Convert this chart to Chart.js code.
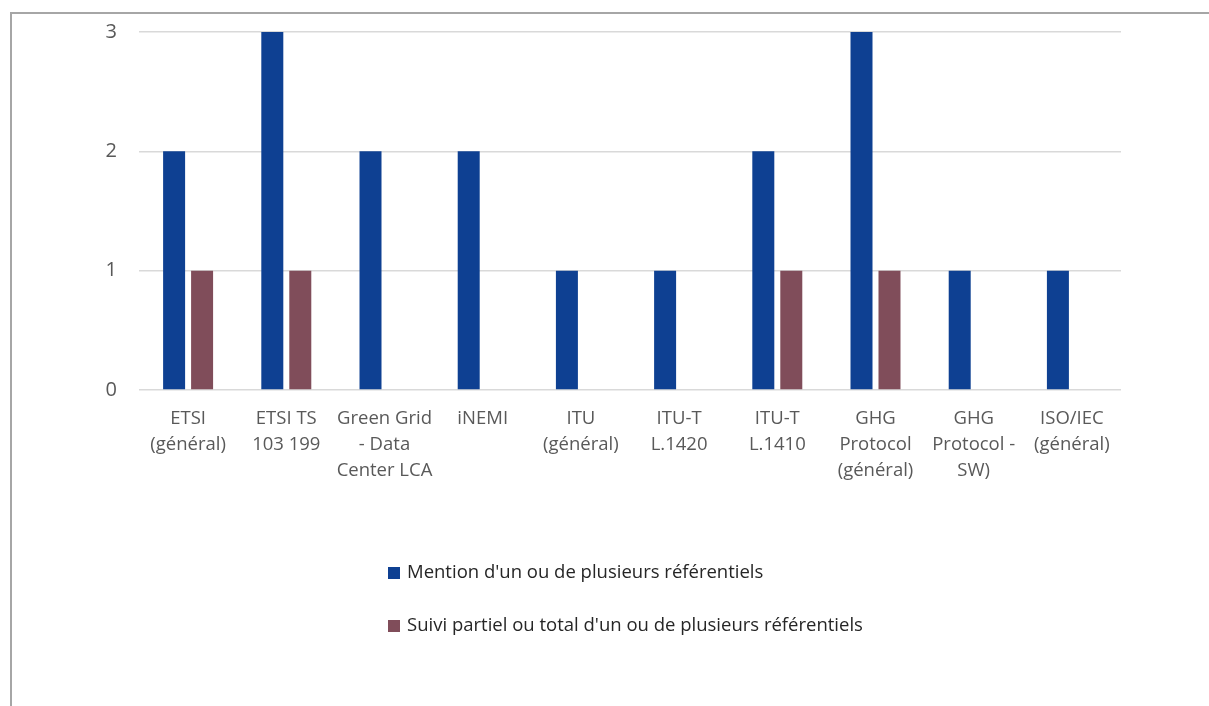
<!DOCTYPE html>
<html>
<head>
<meta charset="utf-8">
<script src="https://cdn.jsdelivr.net/npm/chart.js@4.4.0/dist/chart.umd.min.js"></script>
<style>
  html, body { margin: 0; padding: 0; background: #fff; overflow: hidden; width: 1209px; height: 706px; }
  #frame { position: absolute; left: 10px; top: 12px; width: 1260px; height: 760px;
           border-left: 2px solid #a6a6a6; border-top: 2px solid #a6a6a6; background: #fff; }
  #wrap { position: absolute; left: 0; top: 0; width: 1197px; height: 692px; }
</style>
</head>
<body>
<div id="frame"><div id="wrap"><canvas id="c" width="1197" height="692"></canvas></div></div>
<script>
const categories = [
  ["ETSI", "(général)"],
  ["ETSI TS", "103 199"],
  ["Green Grid", "- Data", "Center LCA"],
  ["iNEMI"],
  ["ITU", "(général)"],
  ["ITU-T", "L.1420"],
  ["ITU-T", "L.1410"],
  ["GHG", "Protocol", "(général)"],
  ["GHG", "Protocol -", "SW)"],
  ["ISO/IEC", "(général)"]
];
const seriesNames = [
  "Mention d'un ou de plusieurs référentiels",
  "Suivi partiel ou total d'un ou de plusieurs référentiels"
];
const mentionValues = [2, 3, 2, 2, 1, 1, 2, 3, 1, 1];
const suiviValues   = [1, 1, 0, 0, 0, 0, 1, 1, 0, 0];
const yTicks = [0, 1, 2, 3];
const seriesColors = ["#0E4092", "#804D5A"];

const FONT = "'Open Sans', 'Liberation Sans', sans-serif";

const stackedLegend = {
  id: 'stackedLegend',
  afterDraw(chart) {
    const ctx = chart.ctx;
    const area = chart.chartArea;
    ctx.save();
    ctx.font = "18.5px " + FONT;
    const widths = seriesNames.map(n => ctx.measureText(n).width + 19);
    const blockW = Math.max(...widths);
    const left = Math.round((area.left + area.right) / 2 - blockW / 2) - 5;
    const rows = [area.bottom + 183, area.bottom + 236];
    chart.data.datasets.forEach((ds, i) => {
      const cy = rows[i];
      ctx.fillStyle = ds.backgroundColor;
      ctx.fillRect(left, cy - 6, 12, 12);
      ctx.fillStyle = "#262626";
      ctx.textBaseline = "middle";
      ctx.textAlign = "left";
      ctx.fillText(ds.label, left + 19, cy);
    });
    ctx.restore();
  }
};

new Chart(document.getElementById('c'), {
  type: 'bar',
  data: {
    labels: categories,
    datasets: [
      { label: seriesNames[0], data: mentionValues, backgroundColor: seriesColors[0], borderWidth: 0 },
      { label: seriesNames[1], data: suiviValues, backgroundColor: seriesColors[1], borderWidth: 0 }
    ]
  },
  options: {
    responsive: false,
    animation: false,
    devicePixelRatio: 1,
    layout: { padding: { top: 18, right: 88, bottom: 206, left: 0 } },
    datasets: { bar: { categoryPercentage: 0.57, barPercentage: 0.786 } },
    plugins: { legend: { display: false }, tooltip: { enabled: false } },
    scales: {
      x: {
        grid: { display: false, drawTicks: false },
        border: { display: false },
        ticks: { color: "#595959", font: { family: FONT, size: 18.5, lineHeight: 1.4 }, padding: 16, maxRotation: 0, autoSkip: false },
        afterFit(s) { s.height = 110; s.paddingLeft = 0; s.paddingRight = 0; s.paddingTop = 0; s.paddingBottom = 0; }
      },
      y: {
        min: 0, max: 3,
        afterBuildTicks(s) { s.ticks = yTicks.map(v => ({ value: v })); },
        grid: { color: "#d9d9d9", lineWidth: 1.5, drawTicks: false },
        border: { display: false },
        ticks: { color: "#595959", font: { family: FONT, size: 20 }, padding: 22 },
        afterFit(s) { s.width = 127; s.paddingTop = 0; s.paddingBottom = 0; s.paddingLeft = 0; s.paddingRight = 0; }
      }
    }
  },
  plugins: [stackedLegend]
});
</script>
</body>
</html>
